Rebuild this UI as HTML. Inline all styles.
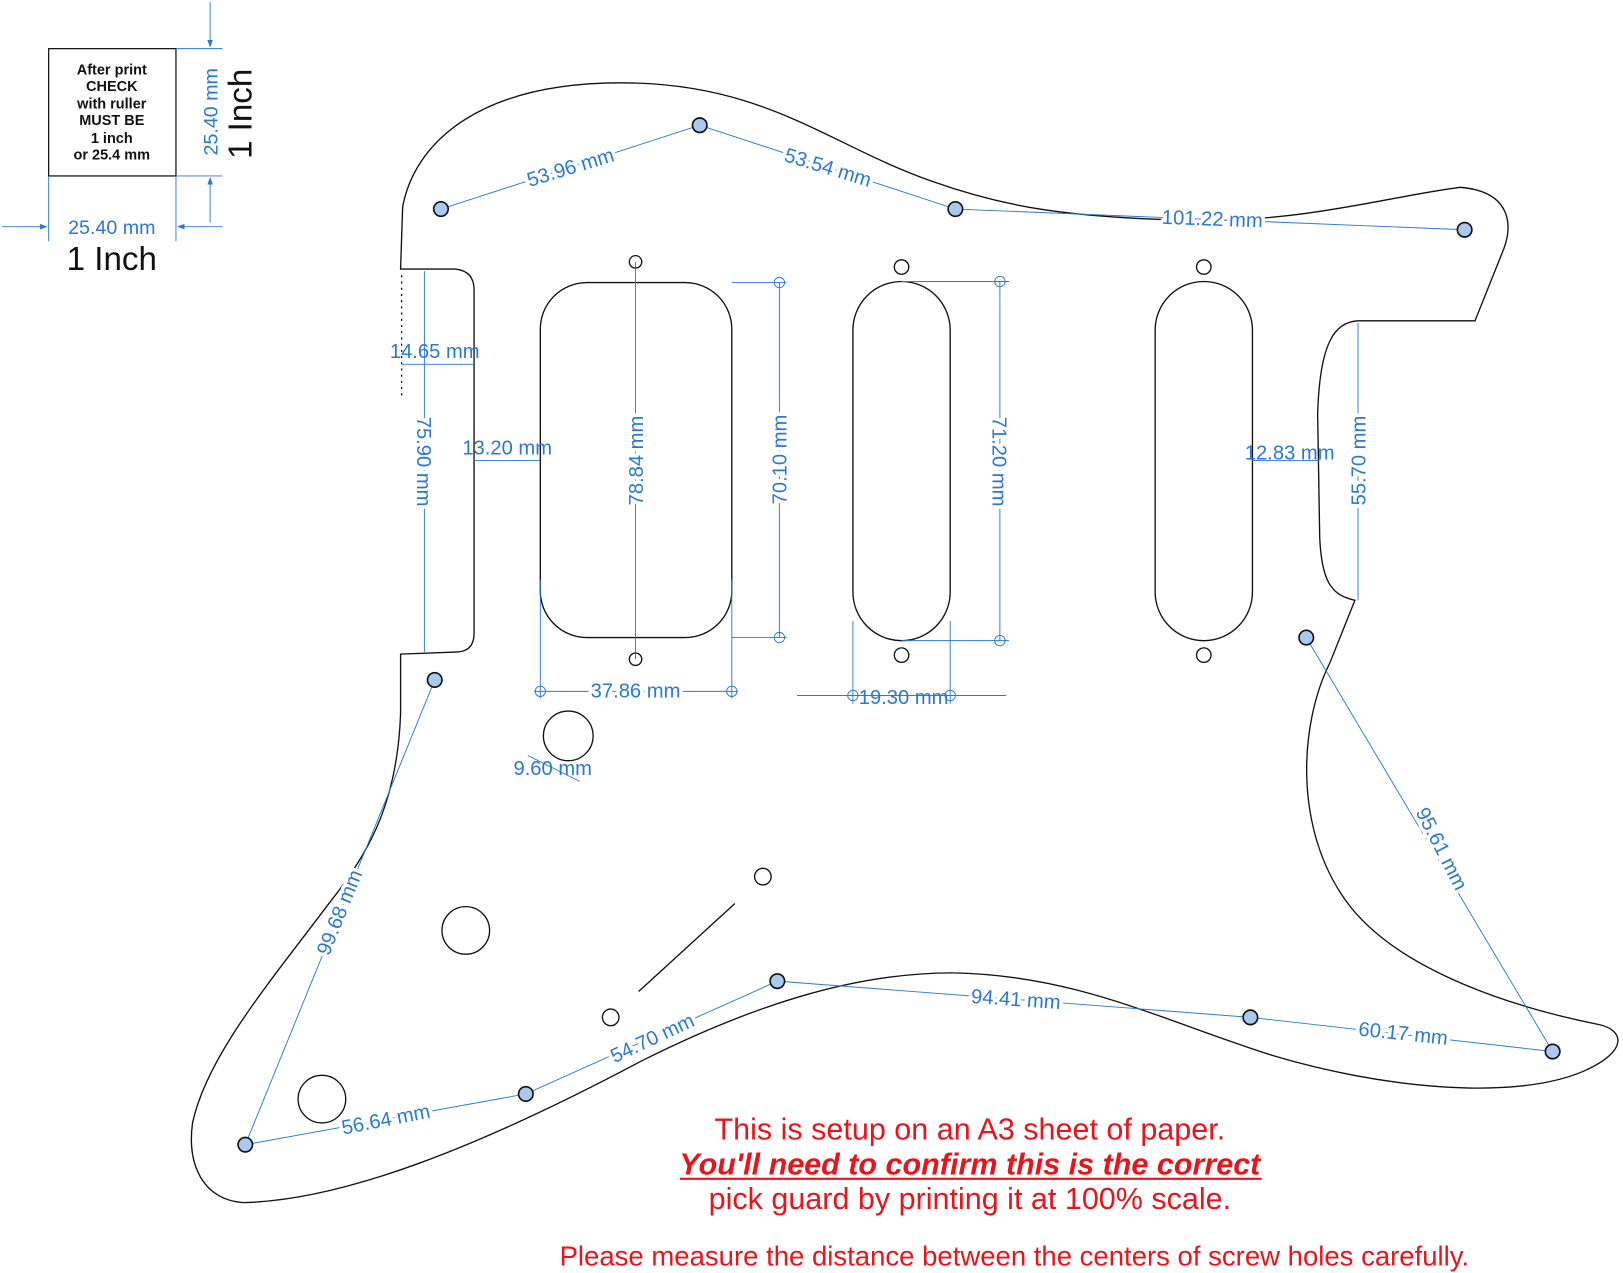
<!DOCTYPE html>
<html><head><meta charset="utf-8"><style>
html,body{margin:0;padding:0;background:#fff;}
svg{display:block;}
text{font-family:"Liberation Sans",Arial,sans-serif;}
.d{fill:#2a78d6;font-size:19.5px;}
.w{fill:#fff;stroke:#fff;stroke-width:7px;stroke-linejoin:round;font-size:19.5px;}
.dl{stroke:#2a78d6;stroke-width:0.9;fill:none;}
.k{stroke:#111;stroke-width:1.3;fill:none;}
.sc{fill:#a9c9ee;stroke:#111;stroke-width:1.6;}
</style></head><body>
<svg width="1623" height="1273" viewBox="0 0 1568 1230" preserveAspectRatio="none" xmlns="http://www.w3.org/2000/svg">
<defs><marker id="a" markerWidth="8" markerHeight="8" refX="7" refY="4" orient="auto"><path d="M0,1 L8,4 L0,7z" fill="#2a78d6"/></marker></defs>
<rect x="47" y="47" width="123" height="123" fill="none" stroke="#111" stroke-width="1.2"/>
<g font-weight="bold" font-size="14" text-anchor="middle" fill="#111">
<text x="108" y="72">After print</text><text x="108" y="88">CHECK</text><text x="108" y="105">with ruller</text><text x="108" y="121">MUST BE</text><text x="108" y="138">1 inch</text><text x="108" y="154">or 25.4 mm</text></g>
<line class="dl" x1="170" y1="47" x2="215" y2="47"/><line class="dl" x1="170" y1="170" x2="215" y2="170"/>
<line class="dl" x1="203" y1="2" x2="203" y2="45" marker-end="url(#a)"/><line class="dl" x1="203" y1="215" x2="203" y2="172" marker-end="url(#a)"/>
<line class="dl" x1="47" y1="170" x2="47" y2="233"/><line class="dl" x1="170" y1="170" x2="170" y2="233"/>
<line class="dl" x1="2" y1="219" x2="45" y2="219" marker-end="url(#a)"/><line class="dl" x1="215" y1="219" x2="172" y2="219" marker-end="url(#a)"/>
<text x="108" y="226" text-anchor="middle" font-size="19" fill="#2a78d6">25.40 mm</text>
<text x="108" y="261" text-anchor="middle" font-size="32" fill="#111">1 Inch</text>
<text transform="translate(210,108) rotate(-90)" text-anchor="middle" font-size="19" fill="#2a78d6">25.40 mm</text>
<text transform="translate(243,110) rotate(-90)" text-anchor="middle" font-size="32" fill="#111">1 Inch</text>
<path class="k" d="M387,260 L440,260 Q458,262 458,280 L458,612 Q458,630 440,630 L387,632 L387,690 C384,770 360,820 320,870 C260,950 200,1020 186,1085 C180,1130 200,1160 235,1162 C330,1160 460,1110 620,1025 C720,975 820,940 920,940 C1040,942 1120,985 1230,1020 C1330,1050 1460,1065 1530,1035 C1575,1015 1568,995 1545,990 C1470,975 1350,940 1300,870 C1250,800 1255,700 1285,640 L1309,580 C1285,575 1277,560 1275,520 L1273,400 C1275,330 1290,311 1312,310 L1425,310 L1453,240 C1462,215 1458,185 1411,181 C1340,190 1260,215 1150,213 C1030,210 970,200 900,175 C800,140 740,80 600,80 C460,80 400,140 389,200 Z"/>
<line x1="388" y1="266" x2="388" y2="385" stroke="#111" stroke-dasharray="2,4" stroke-width="1.3"/>
<rect class="k" x="522" y="273" width="185" height="343" rx="45"/>
<rect class="k" x="824" y="272" width="94" height="347" rx="47"/>
<rect class="k" x="1116" y="272" width="94" height="347" rx="47"/>
<g class="k"><circle cx="614" cy="253" r="6"/><circle cx="614" cy="637" r="6"/><circle cx="871" cy="258" r="7"/><circle cx="871" cy="633" r="7"/><circle cx="1163" cy="258" r="7"/><circle cx="1163" cy="633" r="7"/><circle cx="737" cy="847" r="8"/><circle cx="590" cy="983" r="8"/>
<circle cx="549" cy="711" r="24"/><circle cx="450" cy="899" r="23"/><circle cx="311" cy="1062" r="23"/></g>
<line class="k" x1="617" y1="958" x2="710" y2="873"/>
<g class="dl">
<polyline points="426,202 676,121 923,202 1415,222"/>
<polyline points="420,657 237,1106 508,1057 751,948 1208,983 1500,1016 1262,616"/>
<line x1="614" y1="253" x2="614" y2="637"/>
<line x1="707" y1="273" x2="760" y2="273"/><line x1="707" y1="616" x2="760" y2="616"/><line x1="753" y1="273" x2="753" y2="616"/>
<line x1="871" y1="272" x2="975" y2="272"/><line x1="871" y1="619" x2="975" y2="619"/><line x1="966" y1="272" x2="966" y2="619"/>
<line x1="522" y1="560" x2="522" y2="675"/><line x1="707" y1="560" x2="707" y2="675"/><line x1="516" y1="668" x2="713" y2="668"/>
<line x1="824" y1="600" x2="824" y2="680"/><line x1="918" y1="600" x2="918" y2="680"/><line x1="770" y1="672" x2="972" y2="672"/>
<line x1="410" y1="262" x2="410" y2="630"/><line x1="388" y1="352" x2="458" y2="352"/><line x1="458" y1="445" x2="522" y2="445"/>
<line x1="1210" y1="445" x2="1275" y2="445"/><line x1="1312" y1="312" x2="1312" y2="580"/>
<line x1="510" y1="730" x2="560" y2="755"/>
</g>
<g class="dl"><circle cx="753" cy="273" r="5"/><circle cx="753" cy="616" r="5"/><circle cx="966" cy="272" r="5"/><circle cx="966" cy="619" r="5"/><circle cx="522" cy="668" r="5"/><circle cx="707" cy="668" r="5"/><circle cx="824" cy="672" r="5"/><circle cx="918" cy="672" r="5"/></g>
<g class="sc">
<circle cx="426" cy="202" r="7"/><circle cx="676" cy="121" r="7"/><circle cx="923" cy="202" r="7"/><circle cx="1415" cy="222" r="7"/><circle cx="420" cy="657" r="7"/><circle cx="1262" cy="616" r="7"/><circle cx="1500" cy="1016" r="7"/><circle cx="1208" cy="983" r="7"/><circle cx="751" cy="948" r="7"/><circle cx="508" cy="1057" r="7"/><circle cx="237" cy="1106" r="7"/></g>
<g class="w" text-anchor="middle">
<text transform="translate(553,168) rotate(-17)">53.96 mm</text>
<text transform="translate(798,168) rotate(17)">53.54 mm</text>
<text transform="translate(1171,218) rotate(2)">101.22 mm</text>
<text transform="translate(403,446) rotate(90)">75.90 mm</text>
<text transform="translate(621,445) rotate(-90)">78.84 mm</text>
<text transform="translate(760,444) rotate(-90)">70.10 mm</text>
<text transform="translate(959,446) rotate(90)">71.20 mm</text>
<text transform="translate(1319,445) rotate(-90)">55.70 mm</text>
<text x="614" y="674">37.86 mm</text>
<text transform="translate(334,884) rotate(-68)">99.68 mm</text>
<text transform="translate(1387,823) rotate(63)">95.61 mm</text>
<text transform="translate(374,1088) rotate(-11)">56.64 mm</text>
<text transform="translate(633,1009) rotate(-25)">54.70 mm</text>
<text transform="translate(981,972) rotate(4)">94.41 mm</text>
<text transform="translate(1355,1005) rotate(6)">60.17 mm</text>
</g>
<g class="d" text-anchor="middle">
<text transform="translate(553,168) rotate(-17)">53.96 mm</text>
<text transform="translate(798,168) rotate(17)">53.54 mm</text>
<text transform="translate(1171,218) rotate(2)">101.22 mm</text>
<text x="420" y="346">14.65 mm</text>
<text x="490" y="439">13.20 mm</text>
<text x="1246" y="444">12.83 mm</text>
<text transform="translate(403,446) rotate(90)">75.90 mm</text>
<text transform="translate(621,445) rotate(-90)">78.84 mm</text>
<text transform="translate(760,444) rotate(-90)">70.10 mm</text>
<text transform="translate(959,446) rotate(90)">71.20 mm</text>
<text transform="translate(1319,445) rotate(-90)">55.70 mm</text>
<text x="614" y="674">37.86 mm</text>
<text x="873" y="680">19.30 mm</text>
<text x="534" y="749">9.60 mm</text>
<text transform="translate(334,884) rotate(-68)">99.68 mm</text>
<text transform="translate(1387,823) rotate(63)">95.61 mm</text>
<text transform="translate(374,1088) rotate(-11)">56.64 mm</text>
<text transform="translate(633,1009) rotate(-25)">54.70 mm</text>
<text transform="translate(981,972) rotate(4)">94.41 mm</text>
<text transform="translate(1355,1005) rotate(6)">60.17 mm</text>
</g>
<g fill="#e8141b" text-anchor="middle" font-size="29.5">
<text x="937" y="1101">This is setup on an A3 sheet of paper.</text>
<text x="937" y="1135" font-weight="bold" font-style="italic">You'll need to confirm this is the correct</text>
<line x1="657" y1="1139" x2="1219" y2="1139" stroke="#e8141b" stroke-width="2"/>
<text x="937" y="1168">pick guard by printing it at 100% scale.</text>
<text x="980" y="1223" font-size="26.6">Please measure the distance between the centers of screw holes carefully.</text>
</g>
</svg>
</body></html>
